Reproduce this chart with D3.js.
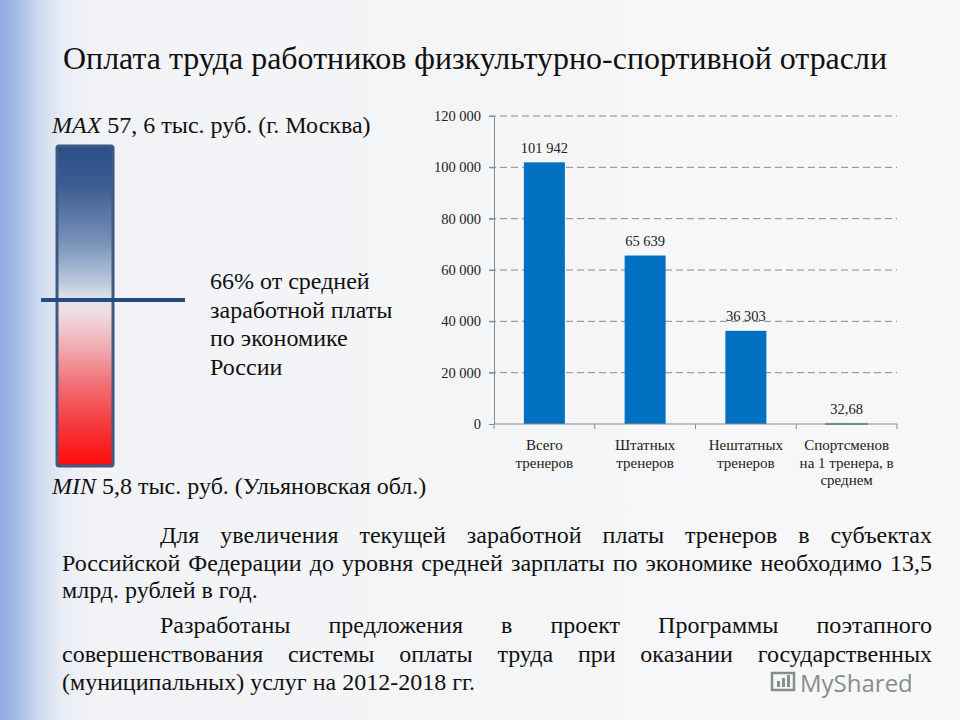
<!DOCTYPE html>
<html>
<head>
<meta charset="utf-8">
<script src="https://cdn.jsdelivr.net/npm/d3@7/dist/d3.min.js"></script>
<style>
  html, body { margin: 0; padding: 0; background: #f5f6f8; }
  svg { display: block; }
</style>
</head>
<body>
<svg id="chart" width="960" height="720"></svg>
<script>
// ---------- data ----------
const titleText = "Оплата труда работников физкультурно-спортивной отрасли";
const categories = [
  ["Всего", "тренеров"],
  ["Штатных", "тренеров"],
  ["Нештатных", "тренеров"],
  ["Спортсменов", "на 1 тренера, в", "среднем"]
];
const values = [101942, 65639, 36303, 32.68];
const barColors = ["#0070c0", "#0070c0", "#0070c0", "#4f9b7e"];
const yTicks = [0, 20000, 40000, 60000, 80000, 100000, 120000];
const yDomain = [0, 120000];
const maxLabel = ["MAX", " 57, 6 тыс. руб. (г. Москва)"];
const minLabel = ["MIN", " 5,8 тыс. руб. (Ульяновская обл.)"];
const noteLines = ["66% от средней", "заработной платы", "по экономике", "России"];
const paragraph1 = [
  "Для увеличения текущей заработной платы тренеров в субъектах",
  "Российской Федерации до уровня средней зарплаты по экономике необходимо 13,5",
  "млрд. рублей в год."
];
const paragraph2 = [
  "Разработаны предложения в проект Программы поэтапного",
  "совершенствования системы оплаты труда при оказании государственных",
  "(муниципальных) услуг на 2012-2018 гг."
];
const watermark = "MyShared";

// ---------- setup ----------
const SERIF = '"Liberation Serif", Tinos, "Times New Roman", Times';
const svg = d3.select("#chart").style("font-family", SERIF);
const defs = svg.append("defs");

const bg = defs.append("linearGradient").attr("id", "bg").attr("x1", "0").attr("x2", "1").attr("y1", "0").attr("y2", "0");
[[0, "#8eaadf"], [0.02, "#a9bfe7"], [0.04, "#cdd9ef"], [0.065, "#e9edf5"], [0.1, "#f2f3f6"], [1, "#f8f8f9"]]
  .forEach(([o, c]) => bg.append("stop").attr("offset", o).attr("stop-color", c));
svg.append("rect").attr("width", 960).attr("height", 720).attr("fill", "url(#bg)");

const thermo = defs.append("linearGradient").attr("id", "thermo").attr("x1", "0").attr("x2", "0").attr("y1", "0").attr("y2", "1");
[[0, "#2d4f87"], [0.12, "#3a5c92"], [0.3, "#7892b8"], [0.42, "#b7c5da"], [0.48, "#e0e6ee"], [0.52, "#efdde3"],
 [0.62, "#efb0b6"], [0.75, "#f16d72"], [0.88, "#f6363a"], [1, "#ff0a0a"]]
  .forEach(([o, c]) => thermo.append("stop").attr("offset", o).attr("stop-color", c));

// ---------- title ----------
svg.append("text")
  .style("font-family", SERIF)
  .attr("x", 63).attr("y", 69)
  .style("font-size", "32px").attr("fill", "#111")
  .attr("textLength", 824).attr("lengthAdjust", "spacingAndGlyphs")
  .text(titleText);

// ---------- thermometer ----------
svg.append("rect")
  .attr("x", 57).attr("y", 146).attr("width", 56).attr("height", 320)
  .attr("rx", 2)
  .attr("fill", "url(#thermo)")
  .attr("stroke", "#3d5a86").attr("stroke-width", 3);
svg.append("line")
  .attr("x1", 41).attr("x2", 185).attr("y1", 300).attr("y2", 300)
  .attr("stroke", "#274a80").attr("stroke-width", 4);

function richLabel(parts, x, y) {
  const t = svg.append("text").style("font-family", SERIF).attr("x", x).attr("y", y)
    .style("font-size", "24px").attr("fill", "#111");
  t.append("tspan").style("font-style", "italic").text(parts[0]);
  t.append("tspan").text(parts[1]);
}
richLabel(maxLabel, 52, 133);
richLabel(minLabel, 52, 494);

svg.append("g").style("font-family", SERIF).selectAll("text").data(noteLines).join("text")
  .style("font-family", SERIF)
  .attr("x", 210).attr("y", (d, i) => 289 + i * 28.7)
  .style("font-size", "24px").attr("fill", "#111")
  .text(d => d);

// ---------- bar chart ----------
const x0 = 494, x1 = 897;
const x = d3.scaleBand().domain(d3.range(values.length)).range([x0, x1])
  .paddingInner(0.593).paddingOuter(0.2965);
const y = d3.scaleLinear().domain(yDomain).range([424, 116]);
const loc = d3.formatLocale({ decimal: ",", thousands: "\u00a0", grouping: [3], currency: ["", ""] });
const fmt = loc.format(",.2~f");

const g = svg.append("g").style("font-family", SERIF);
// gridlines
g.selectAll("line.grid").data(yTicks.filter(d => d > 0)).join("line")
  .attr("x1", x0 - 5).attr("x2", x1)
  .attr("y1", d => y(d)).attr("y2", d => y(d))
  .attr("stroke", "#8a8a8a").attr("stroke-width", 1).attr("stroke-dasharray", "7,4");

// y axis
const yAxis = g.append("g").attr("transform", `translate(${x0},0)`)
  .call(d3.axisLeft(y).tickValues(yTicks).tickSize(5).tickSizeOuter(0).tickFormat(fmt));
yAxis.attr("font-family", null).attr("font-size", null)
  .style("font-family", SERIF).style("font-size", "14.5px");
yAxis.select(".domain").attr("stroke", "#8a8a8a");
yAxis.selectAll(".tick line").attr("stroke", "#8a8a8a");
yAxis.selectAll(".tick text").style("font-family", SERIF).attr("fill", "#222").attr("x", -13);

// bars
g.selectAll("rect.bar").data(values).join("rect")
  .attr("x", (d, i) => x(i)).attr("width", x.bandwidth())
  .attr("y", d => y(d)).attr("height", d => y(0) - y(d))
  .attr("fill", (d, i) => barColors[i])
  .attr("stroke", (d, i) => barColors[i]).attr("stroke-width", (d, i) => (y(0) - y(d) < 2 ? 2 : 0));

// x axis
const xAxisLine = g.append("g");
xAxisLine.append("line").attr("x1", x0).attr("x2", x1).attr("y1", y(0)).attr("y2", y(0))
  .attr("stroke", "#8a8a8a");
const step = x.step();
xAxisLine.selectAll("line.tk").data(d3.range(values.length + 1)).join("line")
  .attr("x1", i => x0 + i * step).attr("x2", i => x0 + i * step)
  .attr("y1", y(0)).attr("y2", y(0) + 5).attr("stroke", "#8a8a8a");

// value labels
g.selectAll("text.val").data(values).join("text")
  .style("font-family", SERIF)
  .attr("x", (d, i) => x(i) + x.bandwidth() / 2)
  .attr("y", d => y(d) - 9.5)
  .attr("text-anchor", "middle")
  .style("font-size", "14.5px").attr("fill", "#222")
  .text(d => fmt(d));

// category labels
const cat = g.selectAll("text.cat").data(categories).join("text")
  .style("font-family", SERIF)
  .attr("text-anchor", "middle")
  .style("font-size", "15px").attr("fill", "#222");
cat.each(function (lines, i) {
  d3.select(this).selectAll("tspan").data(lines).join("tspan")
    .attr("x", x(i) + x.bandwidth() / 2)
    .attr("y", (d, j) => 450 + j * 17.5)
    .text(d => d);
});

// ---------- justified paragraphs ----------
const textG = svg.append("g").style("font-family", SERIF).style("font-size", "24px").attr("fill", "#111");
function drawLine(str, xs, xe, yb, justify) {
  const words = str.split(/\s+/);
  const nodes = words.map(w => textG.append("text").style("font-family", SERIF).attr("y", yb).text(w));
  let widths = nodes.map(n => n.node().getComputedTextLength());
  const total = d3.sum(widths);
  let gap = justify && words.length > 1 ? (xe - xs - total) / (words.length - 1) : 6;
  if (justify && gap < 4) {
    const k = (xe - xs - 4 * (words.length - 1)) / total;
    widths = widths.map(w => w * k);
    nodes.forEach((n, i) => n.attr("textLength", widths[i]).attr("lengthAdjust", "spacingAndGlyphs"));
    gap = 4;
  }
  let cx = xs;
  nodes.forEach((n, i) => { n.attr("x", cx); cx += widths[i] + gap; });
}
const left = 62, right = 932, indent = 160;
[[paragraph1, [543, 570.5, 598]], [paragraph2, [633, 661.5, 690]]].forEach(([lines, ys]) => {
  lines.forEach((ln, i) => {
    drawLine(ln, i === 0 ? indent : left, right, ys[i], i < lines.length - 1);
  });
});

// ---------- watermark ----------
const wm = svg.append("g").attr("opacity", 0.75);
wm.append("rect").attr("x", 772).attr("y", 673).attr("width", 22).attr("height", 17)
  .attr("fill", "none").attr("stroke", "#5f6a6a").attr("stroke-width", 2.5);
[[777, 6], [782, 9], [787, 12]].forEach(([bx, bh]) =>
  wm.append("rect").attr("x", bx).attr("y", 687 - bh).attr("width", 3).attr("height", bh).attr("fill", "#5f6a6a"));
wm.append("text").attr("x", 800).attr("y", 692)
  .style("font-family", '"Open Sans"').style("font-size", "24px").attr("fill", "#5f6a6a")
  .text(watermark);
</script>
</body>
</html>
